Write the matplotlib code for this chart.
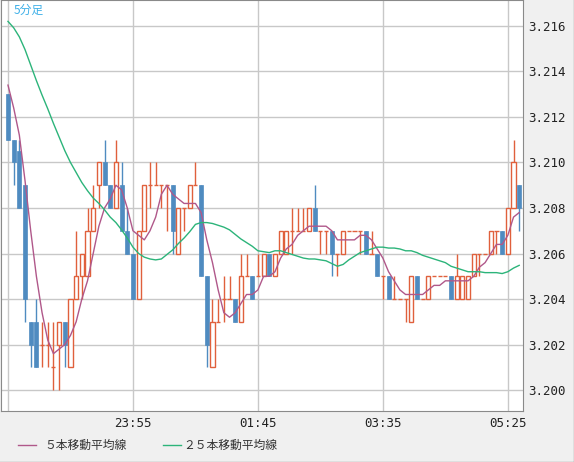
import matplotlib
matplotlib.use("Agg")
import matplotlib.pyplot as plt
from matplotlib.lines import Line2D
from matplotlib.patches import Rectangle
import numpy as np

# closes before the visible window (only used to seed the moving averages)
prior_close = [3.217, 3.218, 3.218, 3.219, 3.218, 3.218, 3.217, 3.217, 3.218, 3.217,
               3.217, 3.216, 3.217, 3.216, 3.216, 3.216, 3.216, 3.216, 3.216, 3.215,
               3.215, 3.214, 3.214, 3.213]

# 5-minute candles, 22:05 .. 05:35
open_ = [3.213, 3.211, 3.2105, 3.209, 3.203, 3.203, 3.202, 3.202, 3.201, 3.202,
         3.203, 3.201, 3.204, 3.205, 3.205, 3.207, 3.209, 3.210, 3.209, 3.208,
         3.209, 3.207, 3.206, 3.204, 3.207, 3.209, 3.209, 3.209, 3.209, 3.209,
         3.206, 3.208, 3.208, 3.209, 3.209, 3.205, 3.201, 3.203, 3.204, 3.204,
         3.204, 3.203, 3.205, 3.205, 3.205, 3.205, 3.206, 3.205, 3.206, 3.206,
         3.207, 3.207, 3.207, 3.207, 3.208, 3.207, 3.207, 3.207, 3.206, 3.206,
         3.207, 3.207, 3.207, 3.207, 3.206, 3.206, 3.205, 3.205, 3.204, 3.204,
         3.204, 3.203, 3.205, 3.204, 3.204, 3.205, 3.205, 3.205, 3.205, 3.204,
         3.204, 3.204, 3.205, 3.206, 3.206, 3.206, 3.207, 3.207, 3.206, 3.208,
         3.209]
high = [3.213, 3.211, 3.211, 3.209, 3.203, 3.204, 3.203, 3.203, 3.203, 3.203,
        3.203, 3.204, 3.207, 3.206, 3.208, 3.209, 3.210, 3.211, 3.209, 3.211,
        3.210, 3.208, 3.206, 3.207, 3.209, 3.210, 3.210, 3.209, 3.209, 3.209,
        3.208, 3.208, 3.209, 3.210, 3.209, 3.205, 3.204, 3.204, 3.205, 3.205,
        3.204, 3.206, 3.206, 3.205, 3.206, 3.206, 3.206, 3.206, 3.207, 3.207,
        3.208, 3.208, 3.208, 3.208, 3.209, 3.207, 3.207, 3.207, 3.206, 3.207,
        3.207, 3.207, 3.207, 3.207, 3.207, 3.206, 3.205, 3.205, 3.205, 3.204,
        3.204, 3.205, 3.205, 3.204, 3.205, 3.205, 3.205, 3.205, 3.205, 3.206,
        3.205, 3.205, 3.206, 3.206, 3.206, 3.207, 3.207, 3.207, 3.208, 3.211,
        3.209]
low = [3.211, 3.209, 3.208, 3.203, 3.201, 3.201, 3.201, 3.201, 3.200, 3.200,
       3.201, 3.201, 3.204, 3.204, 3.205, 3.207, 3.208, 3.209, 3.208, 3.208,
       3.207, 3.206, 3.204, 3.204, 3.207, 3.208, 3.209, 3.208, 3.207, 3.206,
       3.206, 3.207, 3.208, 3.209, 3.205, 3.201, 3.201, 3.203, 3.203, 3.204,
       3.203, 3.203, 3.205, 3.204, 3.205, 3.205, 3.205, 3.205, 3.206, 3.206,
       3.206, 3.207, 3.207, 3.207, 3.207, 3.206, 3.206, 3.205, 3.205, 3.206,
       3.207, 3.207, 3.206, 3.206, 3.206, 3.205, 3.204, 3.204, 3.204, 3.204,
       3.203, 3.203, 3.204, 3.204, 3.204, 3.205, 3.205, 3.205, 3.204, 3.204,
       3.204, 3.204, 3.205, 3.205, 3.206, 3.206, 3.206, 3.206, 3.206, 3.208,
       3.207]
close = [3.211, 3.210, 3.208, 3.204, 3.202, 3.201, 3.202, 3.202, 3.201, 3.203,
         3.202, 3.204, 3.205, 3.206, 3.207, 3.208, 3.210, 3.209, 3.208, 3.210,
         3.207, 3.206, 3.204, 3.207, 3.209, 3.209, 3.209, 3.209, 3.209, 3.207,
         3.208, 3.208, 3.209, 3.209, 3.205, 3.202, 3.203, 3.203, 3.204, 3.204,
         3.203, 3.205, 3.205, 3.204, 3.205, 3.206, 3.205, 3.206, 3.207, 3.207,
         3.207, 3.207, 3.207, 3.208, 3.207, 3.207, 3.207, 3.206, 3.206, 3.207,
         3.207, 3.207, 3.207, 3.206, 3.206, 3.205, 3.205, 3.204, 3.204, 3.204,
         3.204, 3.205, 3.204, 3.204, 3.205, 3.205, 3.205, 3.205, 3.204, 3.205,
         3.205, 3.205, 3.206, 3.206, 3.206, 3.207, 3.207, 3.206, 3.208, 3.210,
         3.208]

tick_idx = [0, 22, 44, 66, 88]
tick_labels = ["", "23:55", "01:45", "03:35", "05:25"]

UP = "#e0603c"
DOWN = "#4f8bc0"
MA5_C = "#b0588a"
MA25_C = "#2cb47a"

o = np.array(open_); h = np.array(high); l = np.array(low); c = np.array(close)
x = np.arange(len(c))
allc = np.array(prior_close + close)
n0 = len(prior_close)
ma5 = np.convolve(allc, np.ones(5) / 5, mode="valid")[n0 - 4:]
ma25 = np.convolve(allc, np.ones(25) / 25, mode="valid")

fig = plt.figure(figsize=(5.74, 4.62), dpi=100, facecolor="#f0f0f0")
ax = fig.add_axes([1 / 574, 1 - 411 / 462, 522 / 574, 411 / 462])
ax.set_facecolor("white")

ax.set_yticks(np.arange(3.200, 3.2161, 0.002))
ax.set_xticks(tick_idx)
ax.set_xticklabels(tick_labels)
ax.grid(True, color="#c8c8c8", linewidth=1)
ax.set_axisbelow(True)

w = 0.72
for i in x:
    up = c[i] >= o[i]
    col = UP if up else DOWN
    ax.vlines(i, l[i], h[i], color=col, linewidth=1, zorder=2)
    if c[i] == o[i]:
        ax.hlines(o[i], i - w / 2, i + w / 2, color=col, linewidth=1, zorder=3)
    elif up:
        ax.bar(i, c[i] - o[i], bottom=o[i], width=w, facecolor="white",
               edgecolor=col, linewidth=1, zorder=3)
    else:
        ax.bar(i, o[i] - c[i], bottom=c[i], width=w, facecolor=col,
               edgecolor=col, linewidth=0.5, zorder=3)

ax.plot(x, ma5, color=MA5_C, linewidth=1, zorder=4)
ax.plot(x, ma25, color=MA25_C, linewidth=1, zorder=4)

ax.set_xlim(-1.23, 90.67)
ax.set_ylim(3.19908, 3.21714)
ax.yaxis.tick_right()
ax.yaxis.set_major_formatter(matplotlib.ticker.FormatStrFormatter("%.3f"))
ax.tick_params(length=0, labelsize=9, colors="#222222", pad=4)
for lab in ax.get_xticklabels() + ax.get_yticklabels():
    lab.set_family("DejaVu Sans Mono")
for s in ax.spines.values():
    s.set_color("#8a8a8a")

jp = ["Noto Sans CJK JP", "DejaVu Sans"]
fig.text(14 / 574, 1 - 4 / 462, "5分足", color="#3fb0e8",
         fontsize=8.5, va="top", family=jp)

fig.add_artist(Line2D([18 / 574, 36 / 574], [1 - 445 / 462] * 2, color=MA5_C, linewidth=1))
fig.text(44 / 574, 1 - 445 / 462, "５本移動平均線", fontsize=8.5, va="center",
         color="#333333", family=jp)
fig.add_artist(Line2D([163 / 574, 181 / 574], [1 - 445 / 462] * 2, color=MA25_C, linewidth=1))
fig.text(183 / 574, 1 - 445 / 462, "２５本移動平均線", fontsize=8.5, va="center",
         color="#333333", family=jp)

# thin outer frame on the right and bottom edges
fig.add_artist(Line2D([0, 1 - 0.5 / 574, 1 - 0.5 / 574], [0.5 / 462, 0.5 / 462, 1],
                      color="#9a9a9a", linewidth=1))

fig.savefig("out.png", dpi=100, facecolor=fig.get_facecolor())
